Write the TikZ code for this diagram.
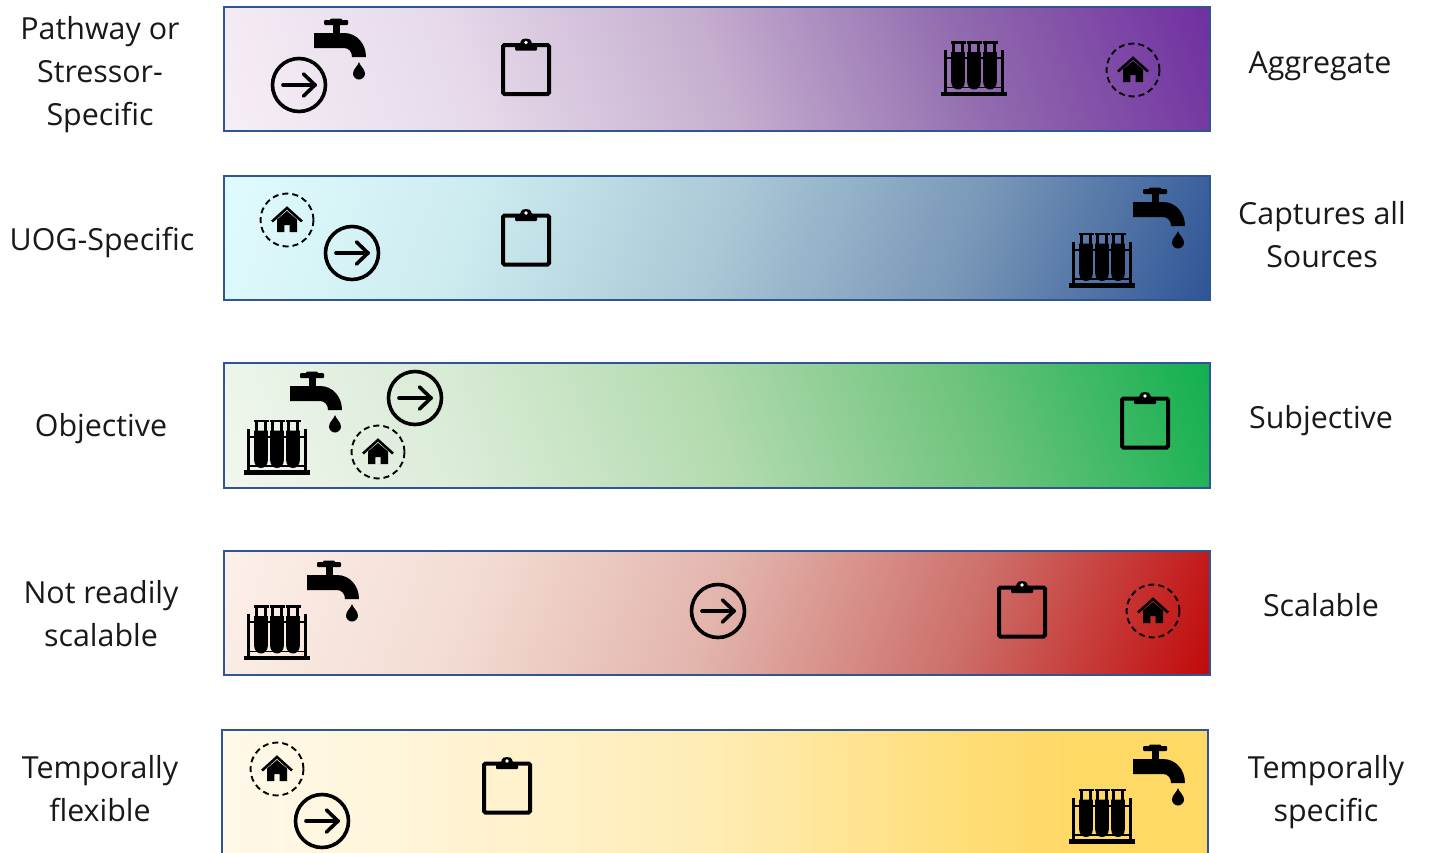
\documentclass[tikz,border=0pt]{standalone}
\usepackage{fontspec}
\setmainfont{Open Sans}
\definecolor{barblue}{HTML}{2F5597}
\definecolor{pa}{RGB}{246,238,246}\definecolor{pb}{RGB}{230,218,234}\definecolor{pc}{RGB}{197,174,207}\definecolor{pd}{RGB}{145,106,174}\definecolor{pe}{RGB}{112,48,160}
\definecolor{ba}{RGB}{224,251,253}\definecolor{bb}{RGB}{205,236,240}\definecolor{bc}{RGB}{170,200,214}\definecolor{bd}{RGB}{120,150,183}\definecolor{be}{RGB}{47,85,151}
\definecolor{ga}{RGB}{241,247,238}\definecolor{gb}{RGB}{217,235,214}\definecolor{gc}{RGB}{178,218,174}\definecolor{gd}{RGB}{110,195,125}\definecolor{ge}{RGB}{18,176,79}
\definecolor{ra}{RGB}{252,240,232}\definecolor{rb}{RGB}{243,220,212}\definecolor{rc}{RGB}{226,180,172}\definecolor{rd}{RGB}{205,110,105}\definecolor{re}{RGB}{192,10,10}
\definecolor{ya}{RGB}{255,249,234}\definecolor{yb}{RGB}{255,243,210}\definecolor{yc}{RGB}{255,236,180}\definecolor{yd}{RGB}{255,222,120}\definecolor{ye}{RGB}{255,217,102}
\pgfdeclarehorizontalshading{purpleramp}{100bp}{color(0bp)=(pa); color(18bp)=(pa); color(34bp)=(pb); color(50bp)=(pc); color(66bp)=(pd); color(82bp)=(pe); color(100bp)=(pe)}
\pgfdeclarehorizontalshading{blueramp}{100bp}{color(0bp)=(ba); color(18bp)=(ba); color(34bp)=(bb); color(50bp)=(bc); color(66bp)=(bd); color(82bp)=(be); color(100bp)=(be)}
\pgfdeclarehorizontalshading{greenramp}{100bp}{color(0bp)=(ga); color(18bp)=(ga); color(34bp)=(gb); color(50bp)=(gc); color(66bp)=(gd); color(82bp)=(ge); color(100bp)=(ge)}
\pgfdeclarehorizontalshading{redramp}{100bp}{color(0bp)=(ra); color(18bp)=(ra); color(34bp)=(rb); color(50bp)=(rc); color(66bp)=(rd); color(82bp)=(re); color(100bp)=(re)}
\pgfdeclarehorizontalshading{goldramp}{100bp}{color(0bp)=(ya); color(25bp)=(ya); color(37.5bp)=(yb); color(50bp)=(yc); color(62.5bp)=(yd); color(68bp)=(ye); color(100bp)=(ye)}
\tikzset{
  x=1pt,y=-1pt,
  barbox/.style={draw=barblue,line width=1.8pt},
  lbl/.style={align=center,text=black!90,font=\fontsize{30.4}{43}\selectfont,inner sep=0pt},
  tap/.pic={
    \fill[rounded corners=1pt] (10,1) rectangle (34,6);
    \fill[rounded corners=1pt] (16,-0.5) rectangle (28,3);
    \fill (18.5,3) rectangle (25.5,16);
    \fill (0,14) -- (30,14) .. controls (43,14) and (52,25) .. (52,38) -- (38,38)
      .. controls (38,33) and (35,29) .. (30,29) -- (0,29) -- cycle;
    \fill (45,43) .. controls (46,47) and (51,50) .. (51,54.5)
      .. controls (51,58) and (48,60.5) .. (45,60.5)
      .. controls (42,60.5) and (39,58) .. (39,54.5)
      .. controls (39,50) and (44,47) .. (45,43) -- cycle;
  },
  rack/.pic={
    \fill (0,50.5) rectangle (66,55);
    \fill (3,9) rectangle (6,51);
    \fill (60,9) rectangle (63,51);
    \fill (3,16) rectangle (63,18.2);
    \fill (3,45.5) rectangle (63,47);
    \foreach \c in {17,33,49}{
      \fill (\c-7.5,0) rectangle (\c+7.5,2.8);
      \fill (\c-6,2) rectangle (\c-3.2,12);
      \fill (\c+3.2,2) rectangle (\c+6,12);
      \fill (\c-6.8,11) -- (\c+6.8,11) -- (\c+6.8,41)
        .. controls (\c+6.8,45.5) and (\c+3.5,48.5) .. (\c,48.5)
        .. controls (\c-3.5,48.5) and (\c-6.8,45.5) .. (\c-6.8,41) -- cycle;
    }
  },
  clipbd/.pic={
    \draw[line width=4pt,rounded corners=1.5pt] (-23,-22.5) rectangle (23,26.5);
    \fill[rounded corners=1pt] (-11,-17) -- (-11,-24) -- (-5.5,-24) -- (-5.5,-25) .. controls (-5,-30) and (5,-30) .. (5.5,-25) -- (5.5,-24) -- (11,-24) -- (11,-17) -- cycle;
    \fill[white] (0,-25) circle (1.9);
  },
  arrowc/.pic={
    \draw[line width=3.6pt] (0,0) circle (26.5);
    \draw[line width=3.6pt,line cap=round,line join=round] (-16,0) -- (16,0);
    \draw[line width=3.6pt,line cap=round,line join=round] (4.5,-11) -- (16,0) -- (4.5,11);
  },
  housec/.pic={
    \draw[line width=1.9pt,dash pattern=on 6pt off 4pt] (0,0) circle (26.5);
    \draw[line width=2.6pt] (-15,1.5) -- (0,-12) -- (15,1.5);
    \fill (-10,-0.5) -- (0,-9) -- (10,-0.5) -- (10,12) -- (2.7,12) -- (2.7,5) -- (-2.7,5) -- (-2.7,12) -- (-10,12) -- cycle;
  },
}
\begin{document}
\begin{tikzpicture}
\useasboundingbox (0,0) rectangle (1431,852);
\clip (0,0) rectangle (1431,852);
\fill[white] (0,0) rectangle (1431,852);
% bars
\shade[shading=purpleramp,shading angle=20] (224,7) rectangle (1210,131);
\draw[barbox] (224,7) rectangle (1210,131);
\shade[shading=blueramp,shading angle=-20] (224,176) rectangle (1210,300);
\draw[barbox] (224,176) rectangle (1210,300);
\shade[shading=greenramp,shading angle=20] (224,363) rectangle (1210,488);
\draw[barbox] (224,363) rectangle (1210,488);
\shade[shading=redramp,shading angle=-20] (224,551) rectangle (1210,675);
\draw[barbox] (224,551) rectangle (1210,675);
\shade[shading=goldramp] (222,730) rectangle (1208,860);
\draw[barbox] (222,730) rectangle (1208,860);
% row 1
\pic at (314,19) {tap};
\pic at (299,85) {arrowc};
\pic at (526,67.5) {clipbd};
\pic at (941,41) {rack};
\pic at (1133,70) {housec};
% row 2
\pic at (287,220) {housec};
\pic at (352,253) {arrowc};
\pic at (526,238) {clipbd};
\pic at (1069,232.5) {rack};
\pic at (1133,188) {tap};
% row 3
\pic at (290,372) {tap};
\pic at (415,398) {arrowc};
\pic at (244,419.5) {rack};
\pic at (378,452) {housec};
\pic at (1145,421) {clipbd};
% row 4
\pic at (307,561) {tap};
\pic at (244,605) {rack};
\pic at (718,611) {arrowc};
\pic at (1022,610) {clipbd};
\pic at (1153,611) {housec};
% row 5
\pic at (277,769) {housec};
\pic at (322,821) {arrowc};
\pic at (507,786) {clipbd};
\pic at (1069,788.5) {rack};
\pic at (1133,745) {tap};
% labels
\node[lbl] (l1) at (100,75) {Pathway or\\Stressor-\\Specific};
\node[lbl] (l2) at (102,242.5) {UOG-Specific};
\node[lbl] (l3) at (101,429) {Objective};
\node[lbl] (l4) at (101,614) {Not readily\\scalable};
\node[lbl] (l5) at (100,789) {Temporally\\flexible};
\node[lbl] (r1) at (1320,66) {Aggregate};
\node[lbl] (r2) at (1322,235) {Captures all\\Sources};
\node[lbl] (r3) at (1321,421) {Subjective};
\node[lbl] (r4) at (1321,605) {Scalable};
\node[lbl] (r5) at (1326,792) {Temporally\\specific};
\end{tikzpicture}
\end{document}
